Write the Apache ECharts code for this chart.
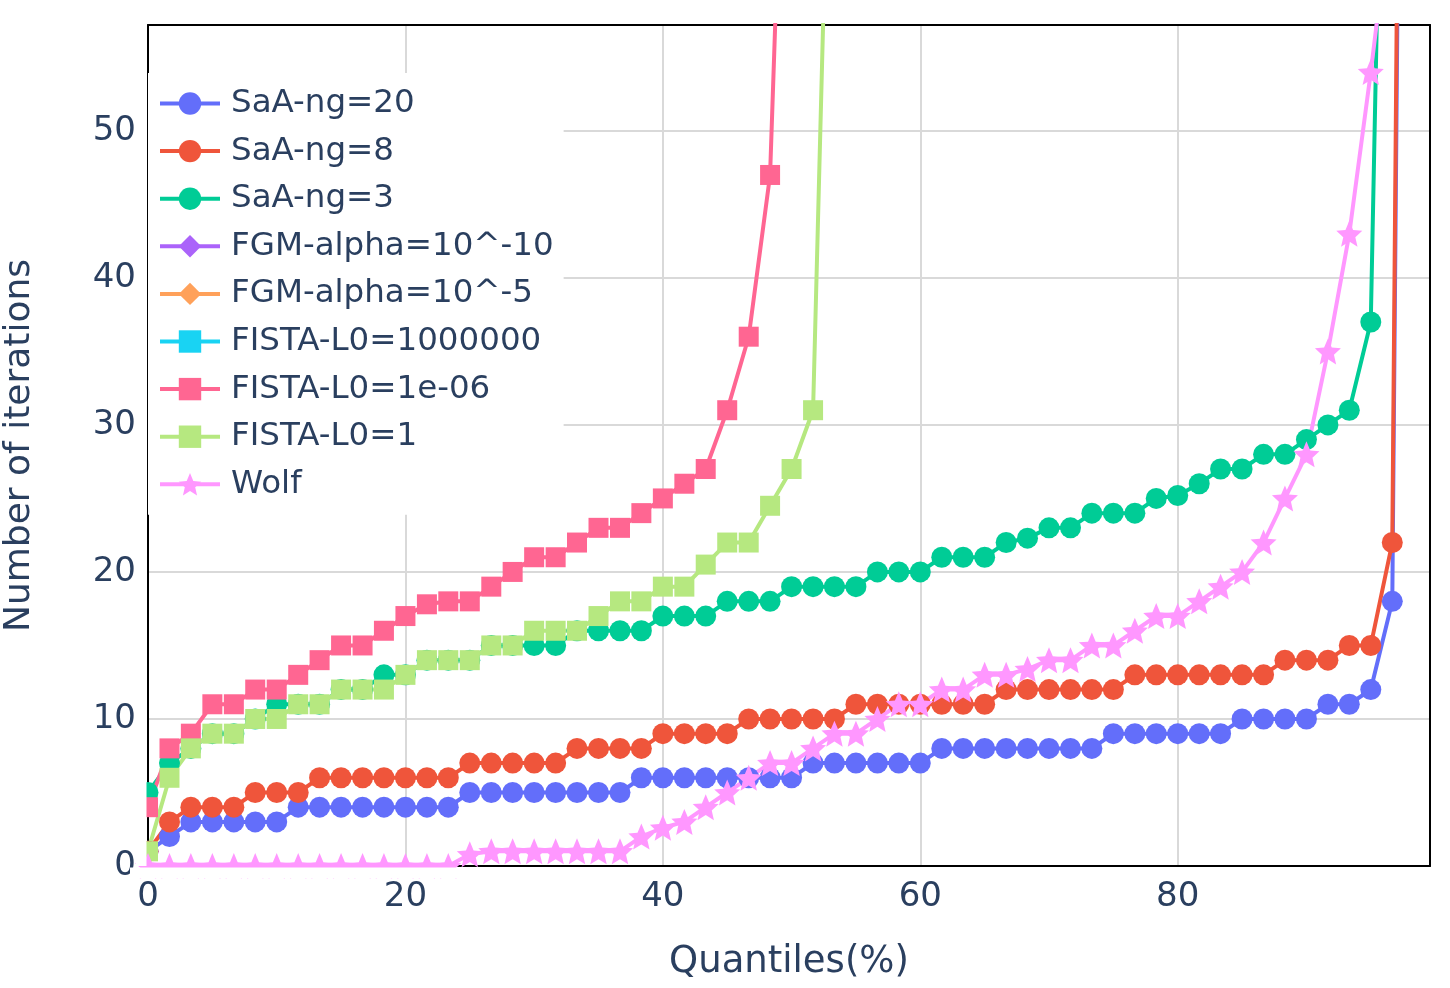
<!DOCTYPE html>
<html>
<head>
<meta charset="utf-8">
<script src="https://cdn.jsdelivr.net/npm/echarts@6/dist/echarts.min.js"></script>
<style>
  html, body { margin: 0; padding: 0; background: #fff; }
  #chart { width: 1450px; height: 988px; }
</style>
</head>
<body>
<div id="chart"></div>
<script>
// quantiles (%) of the 60 sample points
var quantiles = [0, 1.67, 3.33, 5, 6.67, 8.33, 10, 11.67, 13.33, 15,
    16.67, 18.33, 20, 21.67, 23.33, 25, 26.67, 28.33, 30, 31.67,
    33.33, 35, 36.67, 38.33, 40, 41.67, 43.33, 45, 46.67, 48.33,
    50, 51.67, 53.33, 55, 56.67, 58.33, 60, 61.67, 63.33, 65,
    66.67, 68.33, 70, 71.67, 73.33, 75, 76.67, 78.33, 80, 81.67,
    83.33, 85, 86.67, 88.33, 90, 91.67, 93.33, 95, 96.67, 98.33];

var saa20 = [1, 2, 3, 3, 3, 3, 3, 4, 4, 4, 4, 4, 4, 4, 4, 5, 5, 5, 5, 5,
    5, 5, 5, 6, 6, 6, 6, 6, 6, 6, 6, 7, 7, 7, 7, 7, 7, 8, 8, 8,
    8, 8, 8, 8, 8, 9, 9, 9, 9, 9, 9, 10, 10, 10, 10, 11, 11, 12, 18, 185];
var saa8 = [1, 3, 4, 4, 4, 5, 5, 5, 6, 6, 6, 6, 6, 6, 6, 7, 7, 7, 7, 7,
    8, 8, 8, 8, 9, 9, 9, 9, 10, 10, 10, 10, 10, 11, 11, 11, 11, 11, 11, 11,
    12, 12, 12, 12, 12, 12, 13, 13, 13, 13, 13, 13, 13, 14, 14, 14, 15, 15, 22, 195];
var saa3 = [5, 7, 8, 9, 9, 10, 11, 11, 11, 12, 12, 13, 13, 14, 14, 14, 15, 15, 15, 15,
    16, 16, 16, 16, 17, 17, 17, 18, 18, 18, 19, 19, 19, 19, 20, 20, 20, 21, 21, 21,
    22, 22.3, 23, 23, 24, 24, 24, 25, 25.2, 26, 27, 27, 28, 28, 29, 30, 31, 37, 110];
var fgm10 = [];
var fgm5 = [];
var fistaBig = [];
var fistaSmall = [4, 8, 9, 11, 11, 12, 12, 13, 14, 15, 15, 16, 17, 17.8, 18, 18, 19, 20, 21, 21,
    22, 23, 23, 24, 25, 26, 27, 31, 36, 47, 90];
var fista1 = [1, 6, 8, 9, 9, 10, 10, 11, 11, 12, 12, 12, 13, 14, 14, 14, 15, 15, 16, 16,
    16, 17, 18, 18, 19, 19, 20.5, 22, 22, 24.5, 27, 31, 87];
var wolf = [0, 0, 0, 0, 0, 0, 0, 0, 0, 0, 0, 0, 0, 0, 0, 0.8, 1, 1, 1, 1,
    1, 1, 1, 2, 2.6, 3, 4, 5, 6, 7, 7, 8, 9, 9, 10, 11, 11, 12, 12, 13,
    13, 13.4, 14, 14, 15, 15, 16, 17, 17, 18, 19, 20, 22, 25, 28, 35, 43, 54, 66];

var xTicks = [0, 20, 40, 60, 80];
var yTicks = [0, 10, 20, 30, 40, 50];

var starPath = 'path://M0,-10L2.8,-3.6L9.5,-3.1L4.4,1.4L6,8.1L0,4.5L-6,8.1L-4.4,1.4L-9.5,-3.1L-2.8,-3.6Z';
var textColor = '#2a3f5f';
var font = 'DejaVu Sans';

function pairs(vals) {
    return vals.map(function (v, i) { return [quantiles[i], v]; });
}

function mkSeries(name, vals, color, symbol, size) {
    return {
        name: name,
        type: 'line',
        data: pairs(vals),
        symbol: symbol,
        symbolSize: size,
        showAllSymbol: true,
        clip: true,
        color: color,
        lineStyle: { width: 4, color: color },
        itemStyle: { color: color },
        emphasis: { disabled: true }
    };
}

// plain axis used only to draw the frame on the top / right side
function frameAxis(pos, isX) {
    return {
        type: 'value', position: pos, min: 0, max: isX ? 99.6 : 57.2,
        axisLine: { show: true, onZero: false, lineStyle: { color: '#000', width: 2 } },
        axisTick: { show: false }, axisLabel: { show: false }, splitLine: { show: false }
    };
}

var chart = echarts.init(document.getElementById('chart'));

var option = {
    animation: false,
    backgroundColor: '#fff',
    grid: { left: 148, right: 20, top: 25, bottom: 122, outerBoundsMode: 'none', containLabel: false },
    legend: {
        orient: 'vertical',
        left: 148, top: 73,
        padding: [14, 10, 14, 10],
        backgroundColor: '#fff',
        itemWidth: 60, itemHeight: 28, itemGap: 14.6,
        lineStyle: { width: 4 },
        textStyle: { fontFamily: font, fontSize: 32.5, color: textColor, lineHeight: 32, padding: [0, 0, 0, 6] }
    },
    xAxis: [{
        type: 'value', min: 0, max: 99.6, interval: 20,
        name: 'Quantiles(%)', nameLocation: 'middle', nameGap: 78,
        nameTextStyle: { fontFamily: font, fontSize: 37, color: textColor },
        axisLine: { show: true, onZero: false, lineStyle: { color: '#000', width: 2 } },
        axisTick: { show: false },
        axisLabel: {
            fontFamily: font, fontSize: 34, color: textColor, margin: 14, showMaxLabel: false,
            formatter: function (v) { return xTicks.indexOf(v) >= 0 ? String(v) : ''; }
        },
        splitLine: { show: true, lineStyle: { color: '#d9d9d9', width: 2 } }
    }, frameAxis('top', true)],
    yAxis: [{
        type: 'value', min: 0, max: 57.2, interval: 10,
        name: 'Number of iterations', nameLocation: 'middle', nameGap: 110,
        nameTextStyle: { fontFamily: font, fontSize: 36, color: textColor },
        axisLine: { show: true, onZero: false, lineStyle: { color: '#000', width: 2 } },
        axisTick: { show: false },
        axisLabel: {
            fontFamily: font, fontSize: 34, color: textColor, margin: 12, showMaxLabel: false,
            formatter: function (v) { return yTicks.indexOf(v) >= 0 ? String(v) : ''; }
        },
        splitLine: { show: true, lineStyle: { color: '#d9d9d9', width: 2 } }
    }, frameAxis('right', false)],
    graphic: [
        // hide marker halves that fall outside the plot, as the original does
        { type: 'rect', z: 100, shape: { x: 136, y: 20, width: 10.5, height: 846 }, style: { fill: '#fff' } },
        { type: 'rect', z: 100, shape: { x: 130, y: 867.5, width: 1310, height: 11 }, style: { fill: '#fff' } }
    ],
    series: [
        mkSeries('SaA-ng=20', saa20, '#636efa', 'circle', 21),
        mkSeries('SaA-ng=8', saa8, '#EF553B', 'circle', 21),
        mkSeries('SaA-ng=3', saa3, '#00cc96', 'circle', 21),
        mkSeries('FGM-alpha=10^-10', fgm10, '#ab63fa', 'diamond', 24),
        mkSeries('FGM-alpha=10^-5', fgm5, '#FFA15A', 'diamond', 24),
        mkSeries('FISTA-L0=1000000', fistaBig, '#19d3f3', 'rect', 20),
        mkSeries('FISTA-L0=1e-06', fistaSmall, '#FF6692', 'rect', 20),
        mkSeries('FISTA-L0=1', fista1, '#B6E880', 'rect', 20),
        mkSeries('Wolf', wolf, '#FF97FF', starPath, 26)
    ]
};

chart.setOption(option);
</script>
</body>
</html>
